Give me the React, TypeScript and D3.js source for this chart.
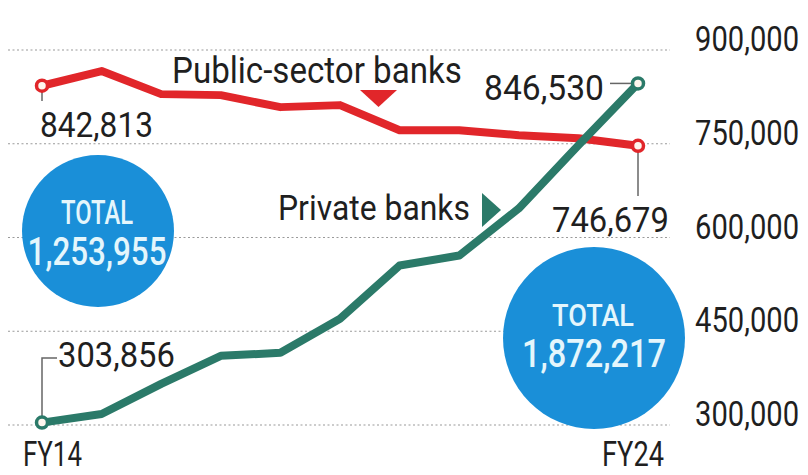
import React from "react";
import * as d3 from "d3";

const years = ["FY14", "FY15", "FY16", "FY17", "FY18", "FY19", "FY20", "FY21", "FY22", "FY23", "FY24"];
const publicBanks = [842813, 866300, 829400, 827800, 808600, 811800, 771700, 771700, 763600, 758800, 746679];
const privateBanks = [303856, 317600, 365800, 410700, 415500, 470000, 555100, 571100, 646500, 747600, 846530];
const yTicks = [300000, 450000, 600000, 750000, 900000];
const totals = [
  { label: "TOTAL", value: "1,253,955" },
  { label: "TOTAL", value: "1,872,217" },
];

const RED = "#e1262a";
const GREEN = "#2b7a69";
const BLUE = "#1a8fd8";
const INK = "#1f1f1f";
const PALE = "#e4f6fc";
const FONT = "Roboto, 'Noto Sans', sans-serif";

// measure text so labels can be squeezed to the narrow look of the original
const ctx = typeof document !== "undefined" ? document.createElement("canvas").getContext("2d") : null;
function measure(txt: string, size: number, weight: number) {
  if (!ctx) return txt.length * size * 0.55;
  ctx.font = `${weight} ${size}px ${FONT}`;
  return ctx.measureText(txt).width;
}

export default function App() {
  const width = 808;
  const height = 475;

  const x = d3.scalePoint<string>().domain(years).range([42, 638]);
  const y = d3.scaleLinear().domain([300000, 900000]).range([425, 50]);
  const fmt = d3.format(",");

  const line = d3
    .line<number>()
    .x((_, i) => x(years[i]) as number)
    .y((d) => y(d));

  const first = years[0];
  const last = years[years.length - 1];
  const x0 = x(first) as number;
  const x1 = x(last) as number;

  // text helper: horizontal squeeze to a target width
  const label = (
    txt: string,
    tx: number,
    ty: number,
    len: number,
    size = 36,
    fill = INK,
    anchor: "start" | "end" | "middle" = "start",
    weight = 400
  ) => {
    const sx = len / measure(txt, size, weight);
    return (
      <text
        transform={`translate(${tx},${ty}) scale(${sx},1)`}
        fontSize={size}
        fill={fill}
        fontWeight={weight}
        textAnchor={anchor}
        fontFamily={FONT}
      >
        {txt}
      </text>
    );
  };

  return (
    <div style={{ position: "absolute", left: 0, top: 0 }}>
      <svg width={width} height={height} style={{ display: "block", background: "#fff" }}>
        {/* grid */}
        <g>
          {yTicks.map((t) => (
            <line
              key={t}
              x1={8}
              x2={670}
              y1={y(t)}
              y2={y(t)}
              stroke="#9a9a9a"
              strokeWidth={1.2}
              strokeDasharray="2,2.5"
            />
          ))}
        </g>

        {/* y axis labels */}
        <g>
          {yTicks.map((t) => (
            <React.Fragment key={t}>{label(fmt(t), 799, y(t) + 1, 104, 35, INK, "end")}</React.Fragment>
          ))}
        </g>

        {/* total bubbles */}
        <circle cx={98} cy={231} r={76} fill={BLUE} />
        {label(totals[0].label, 97, 224, 72, 33, PALE, "middle", 500)}
        {label(totals[0].value, 97, 265, 139, 39, PALE, "middle", 500)}

        <circle cx={594} cy={338} r={91} fill={BLUE} />
        {label(totals[1].label, 593, 326, 82, 32, PALE, "middle", 500)}
        {label(totals[1].value, 594, 367, 144, 38, PALE, "middle", 500)}

        {/* leader lines */}
        <g stroke="#666" strokeWidth={1.5} fill="none">
          <line x1={x0} x2={x0} y1={y(publicBanks[0])} y2={101} />
          <polyline points={`${x0},${y(privateBanks[0])} ${x0},358 57,358`} />
          <line x1={610} x2={x1} y1={y(privateBanks[10])} y2={y(privateBanks[10])} />
          <line x1={x1} x2={x1} y1={y(publicBanks[10])} y2={196} />
        </g>

        {/* series lines */}
        <path
          d={line(publicBanks) || ""}
          fill="none"
          stroke={RED}
          strokeWidth={8}
          strokeLinejoin="round"
          strokeLinecap="round"
        />
        <path
          d={line(privateBanks) || ""}
          fill="none"
          stroke={GREEN}
          strokeWidth={8}
          strokeLinejoin="round"
          strokeLinecap="round"
        />

        {/* end markers */}
        {[
          { v: publicBanks[0], xx: x0, c: RED },
          { v: publicBanks[10], xx: x1, c: RED },
          { v: privateBanks[0], xx: x0, c: GREEN },
          { v: privateBanks[10], xx: x1, c: GREEN },
        ].map((m, i) => (
          <circle key={i} cx={m.xx} cy={y(m.v)} r={5.5} fill="#fff6ee" stroke={m.c} strokeWidth={3.5} />
        ))}

        {/* value labels */}
        {label(fmt(publicBanks[0]), 40, 137, 113)}
        {label(fmt(privateBanks[10]), 484, 100, 120)}
        {label(fmt(publicBanks[10]), 552, 232, 117)}
        {label(fmt(privateBanks[0]), 58, 367, 117)}

        {/* series names */}
        {label("Public-sector banks", 172, 83, 290)}
        <path d="M360,90 L397,90 L378.5,107 Z" fill={RED} />
        {label("Private banks", 278, 220, 192)}
        <path d="M482,193 L501,210 L482,227 Z" fill={GREEN} />

        {/* x labels */}
        {label(first, 23, 466, 59, 35)}
        {label(last, 602, 466, 62, 35)}
      </svg>
    </div>
  );
}
